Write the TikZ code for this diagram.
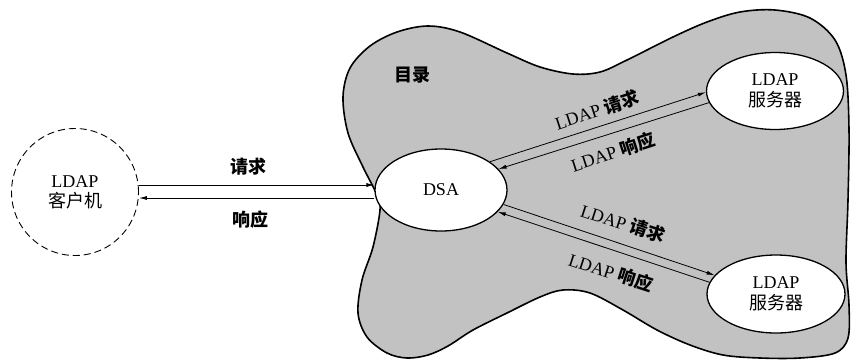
\documentclass[tikz,border=0pt]{standalone}
\usepackage{fontspec}
\setmainfont{Liberation Serif}
\newfontfamily\cjk{Noto Sans CJK SC}
\usetikzlibrary{shapes.geometric,arrows.meta}
\tikzset{
  ell/.style={ellipse, draw, line width=1.3pt, fill=white, align=center, inner sep=0pt, font=\fontsize{18}{21}\selectfont},
  arr/.style={line width=0.8pt, -{Latex[length=8pt,width=4pt]}},
  lbl/.style={font=\fontsize{18}{21}\selectfont, inner sep=0pt},
}
\begin{document}
\begin{tikzpicture}[x=1pt,y=-1pt]
\path[use as bounding box] (0,0) rectangle (851,360);
% directory cloud
\draw[line width=1.6pt, fill=black!24] plot[smooth cycle, tension=0.55] coordinates {
 (377,195) (363,167) (348,133) (343,97) (350,68) (370,46) (397,32) (428,26) (460,32)
 (507,53) (540,67) (573,74) (600,72) (627,60) (673,37) (707,22) (740,12) (775,10)
 (810,18) (835,40) (846,75) (849,130) (848,200) (846,262) (849,305) (848,338)
 (835,353) (800,358) (760,358) (723,355) (690,345) (657,330) (623,310) (590,293)
 (563,290) (540,297) (507,313) (473,330) (448,346) (428,355) (407,358) (387,353)
 (367,337) (358,313) (362,280) (373,247) (380,210) };
\node[lbl, font=\fontsize{18}{21}\selectfont\cjk\bfseries] (dir) at (412,75) {目录};
% nodes
\node[circle, draw, dashed, dash pattern=on 7pt off 4pt, line width=0.9pt, minimum size=127pt, align=center, font=\fontsize{18}{22}\selectfont] (client) at (75,192) {LDAP\\[-2pt]{\cjk 客户机}};
\node[ell, minimum width=132pt, minimum height=82pt] (dsa) at (441,190) {DSA};
\node[ell, minimum width=137pt, minimum height=77pt] (srv1) at (775,91) {LDAP\\{\cjk 服务器}};
\node[ell, minimum width=138pt, minimum height=78pt] (srv2) at (776,294) {LDAP\\{\cjk 服务器}};
% client <-> DSA
\draw[arr] (client.east |- 0,185) -- (dsa.west |- 0,185);
\draw[arr] (dsa.west |- 0,198) -- (client.east |- 0,198);
\node[lbl] (lq) at (248,167) {\cjk\bfseries 请求};
\node[lbl] (lr) at (250,220) {\cjk\bfseries 响应};
% DSA <-> server 1
\draw[arr] (dsa.30) -- (srv1.181);
\draw[arr] (srv1.190) -- (dsa.20);
\node[lbl, rotate=18] (q1) at (597,110) {LDAP {\cjk\bfseries 请求}};
\node[lbl, rotate=18] (r1) at (613,152) {LDAP {\cjk\bfseries 响应}};
% DSA <-> server 2
\draw[arr] (dsa.347) -- (srv2.163);
\draw[arr] (srv2.170) -- (dsa.339);
\node[lbl, rotate=-18] (q2) at (623,223) {LDAP {\cjk\bfseries 请求}};
\node[lbl, rotate=-18] (r2) at (611,272) {LDAP {\cjk\bfseries 响应}};
\end{tikzpicture}
\end{document}
